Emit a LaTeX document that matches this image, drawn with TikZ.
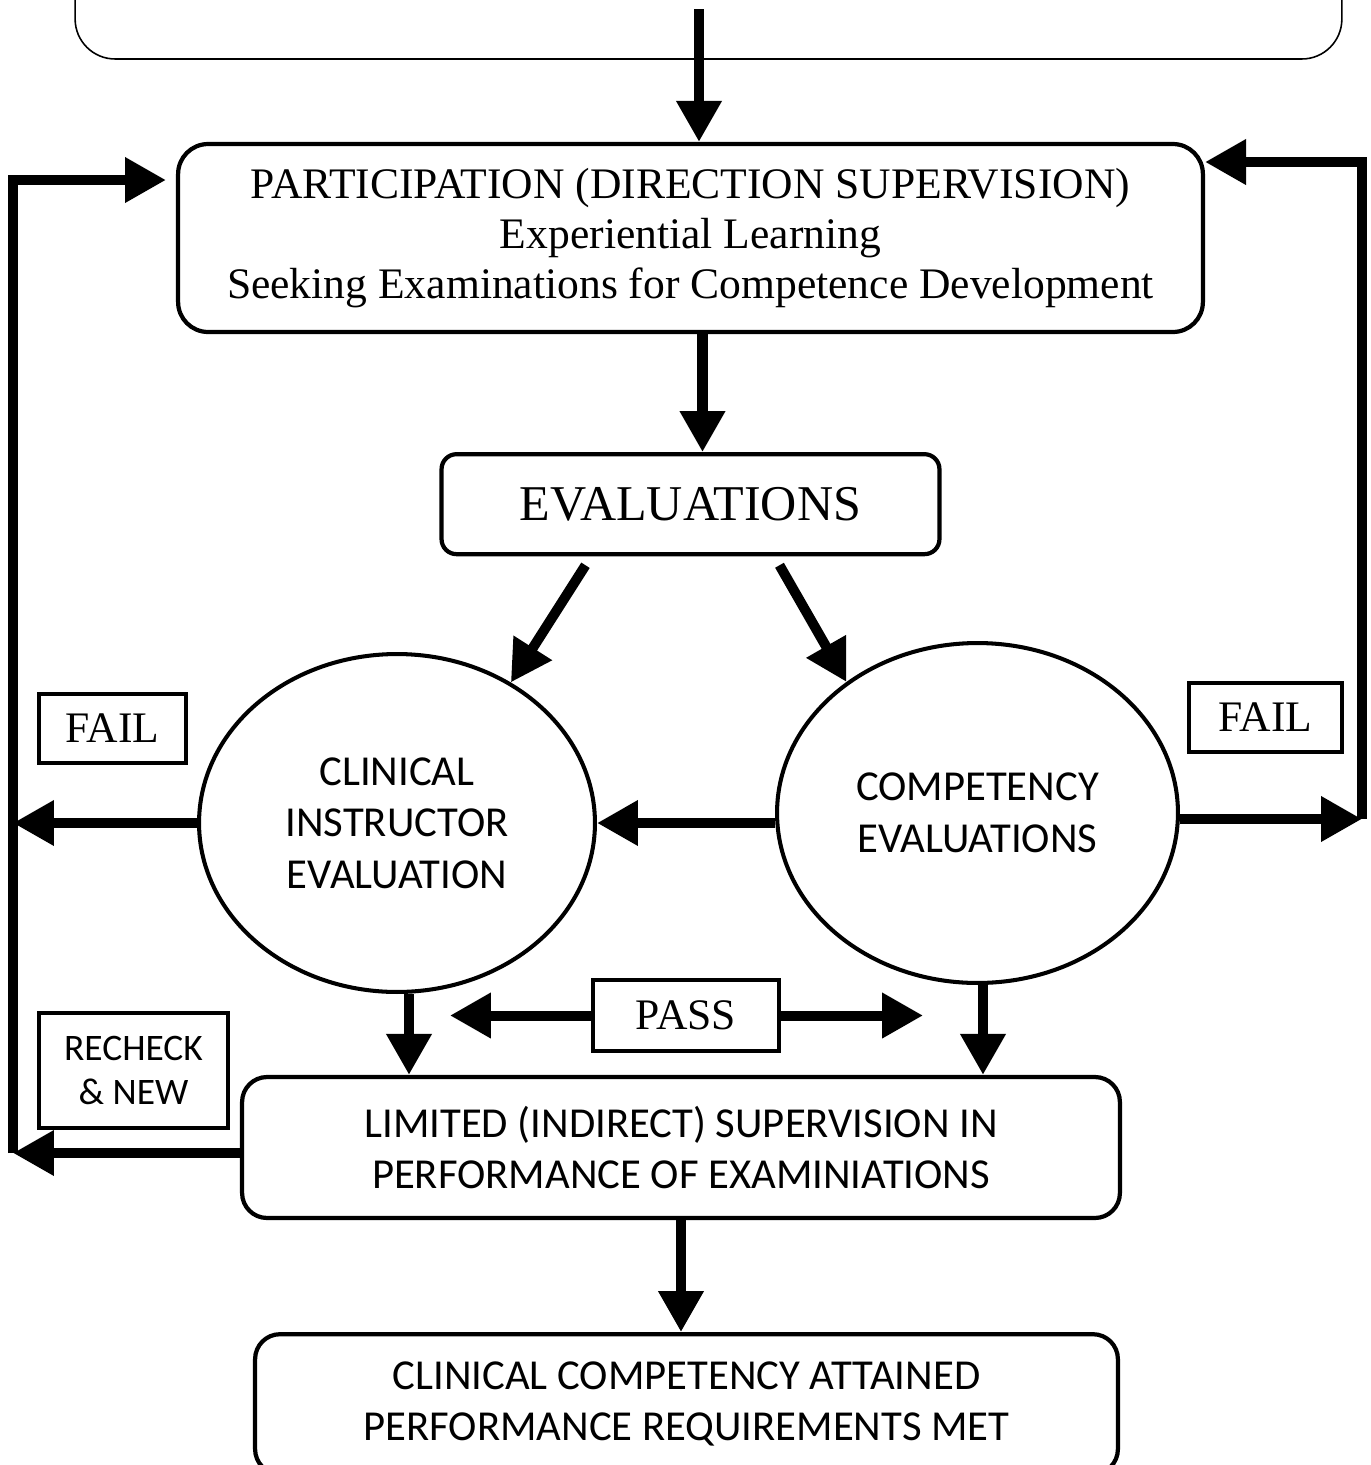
\documentclass[tikz,border=0pt]{standalone}
\usepackage{fontspec}
\setmainfont{Liberation Serif}
\newfontfamily\calibri{Carlito}
\usetikzlibrary{shapes.geometric,positioning,calc,arrows.meta}

\newcommand{\serifbig}{\fontsize{24.8}{28.4}\selectfont}
\newcommand{\sansbig}{\calibri\fontsize{24.3}{29.3}\selectfont}

\begin{document}
\begin{tikzpicture}[x=0.02cm, y=-0.02cm,
    box/.style={rectangle, draw, rounded corners=0.5cm, line width=2.4pt, align=center},
    oval/.style={ellipse, draw, line width=2.3pt, align=center, inner sep=0pt},
    tag/.style={rectangle, draw, line width=2.4pt, align=center, inner sep=0pt},
    arr/.style={line width=5.7pt, -{Triangle[length=0.82cm,width=0.86cm]}}]

    \useasboundingbox (0,0) rectangle (1371,1465);

    	%-----Stages-----
        % Previous Stage (cut off)
        \node [box, line width=0.9pt, rounded corners=0.8cm, minimum width=25.34cm, minimum height=4.18cm] (prev) at (708.5,-45.5) {};
        \coordinate (start) at (699,9);

        % Participation
        \node [box, rounded corners=0.6cm, minimum width=20.5cm, minimum height=3.76cm, font=\serifbig] (part) at (690.5,238) {%
            PARTICIPATION (DIRECTION SUPERVISION) \\
            Experiential Learning \\
            Seeking Examinations for Competence Development
        };

        % Evaluations
        \node [box, rounded corners=0.3cm, below=2.36cm of part, minimum width=9.96cm, minimum height=2cm, font=\fontsize{28.5}{32}\selectfont] (eval) {EVALUATIONS};

        % Clinical Instructor Evaluation
        \node [oval, minimum width=7.92cm, minimum height=6.76cm, font=\sansbig] (clin) at (397,823) {%
            CLINICAL \\
            INSTRUCTOR \\
            EVALUATION
        };

        % Competency Evaluations
        \node [oval, minimum width=8.02cm, minimum height=6.8cm, font=\sansbig] (comp) at (977.5,813) {%
            COMPETENCY \\
            EVALUATIONS
        };

        % Limited Supervision
        \node [box, minimum width=17.56cm, minimum height=2.82cm, font=\sansbig] (lim) at (681,1147.5) {%
            LIMITED (INDIRECT) SUPERVISION IN \\
            PERFORMANCE OF EXAMINIATIONS
        };

        % Competency Attained
        \node [box, below=2.24cm of lim, xshift=0.11cm, minimum width=17.26cm, minimum height=2.8cm, font=\sansbig] (final) {%
            CLINICAL COMPETENCY ATTAINED \\
            PERFORMANCE REQUIREMENTS MET
        };

        %-----Tags-----
        \node [tag, minimum width=3.72cm, minimum height=1.42cm, font=\serifbig] (pass) at (686,1015.5) {PASS};
        \node [tag, minimum width=2.94cm, minimum height=1.38cm, font=\serifbig] (failL) at (112.5,728.5) {FAIL};
        \node [tag, minimum width=3.06cm, minimum height=1.38cm, font=\serifbig] (failR) at (1265.5,717.5) {FAIL};
        \node [tag, minimum width=3.78cm, minimum height=2.3cm, font=\calibri\fontsize{21.3}{25}\selectfont] (recheck) at (133.5,1070.5) {%
            RECHECK \\
            \& NEW
        };

        \coordinate (lt) at (13,180);
        \coordinate (lb) at (13,1153);
        \coordinate (rt) at (1362,162);
        \coordinate (rb) at (1362,819);

\draw[arr] (start) -- (start |- part.north);
\draw[arr] ([xshift=0.24cm]part.south) -- ([xshift=0.24cm]part.south |- eval.north);

\draw[arr] ($(eval.south)+(-105,9)$) -- (clin.51);
\draw[arr] ($(eval.south)+(89,9)$) -- (comp.135);

\draw[arr] (comp.west |- clin.east) -- (clin.east);

% Fail loop on the left
\draw[arr] (clin.west) -- (clin.west -| lb);
\draw[arr] (lim.west |- lb) -- (lb);
\draw[arr, shorten >=0.2cm] (lb) -- (lt) -- (lt -| part.west);

% Fail loop on the right
\draw[arr] (comp.east |- rb) -- (rb);
\draw[arr] (rb) -- (rt) -- (rt -| part.east);

% Pass
\draw[arr] ([xshift=0.24cm]clin.south) -- ([xshift=0.24cm]clin.south |- lim.north);
\draw[arr] ([xshift=0.11cm]comp.south) -- ([xshift=0.11cm]comp.south |- lim.north);
\draw[arr] (pass.west) -- ++(-141,0);
\draw[arr] (pass.east) -- ++(142,0);

\draw[arr] (lim.south) -- (lim.south |- final.north);

    \end{tikzpicture}
\end{document}
